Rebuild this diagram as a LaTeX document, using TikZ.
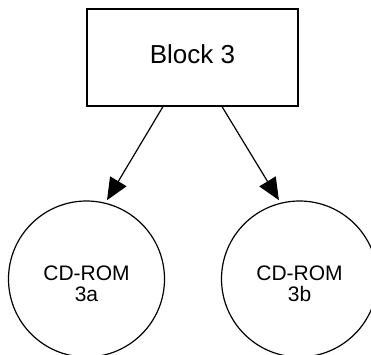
\documentclass[tikz,border=0pt]{standalone}
\usepackage{fontspec}
\setmainfont{Liberation Sans}
\usetikzlibrary{arrows.meta}
\begin{document}
\begin{tikzpicture}[x=1pt,y=1pt,
  blockbox/.style={draw,line width=1.2pt,minimum width=211pt,minimum height=97pt,inner sep=0pt,font=\fontsize{26}{28}\selectfont},
  cdcircle/.style={draw,circle,line width=1.2pt,minimum size=156pt,inner sep=0pt},
  cdtext/.style={align=center,inner sep=0pt,font=\fontsize{21}{21.5}\selectfont},
  arr/.style={line width=1.2pt,-{Triangle[length=22pt,width=19pt]},shorten >=3pt}]
\clip (0,0) rectangle (371,-354);
\useasboundingbox (0,0) rectangle (371,-354);
\node[blockbox] (blk) at (192.5,-57.5) {\raisebox{6pt}{Block 3}};
\node[cdcircle] (a) at (86.5,-279) {};
\node[cdcircle] (b) at (299.5,-279) {};
\node[cdtext] (ta) at (86.5,-284) {CD-ROM\\3a};
\node[cdtext] (tb) at (299.5,-284) {CD-ROM\\3b};
\draw[arr] ([xshift=-29.5pt]blk.south) -- (a.76);
\draw[arr] ([xshift=29.5pt]blk.south) -- (b.104);
\end{tikzpicture}
\end{document}
